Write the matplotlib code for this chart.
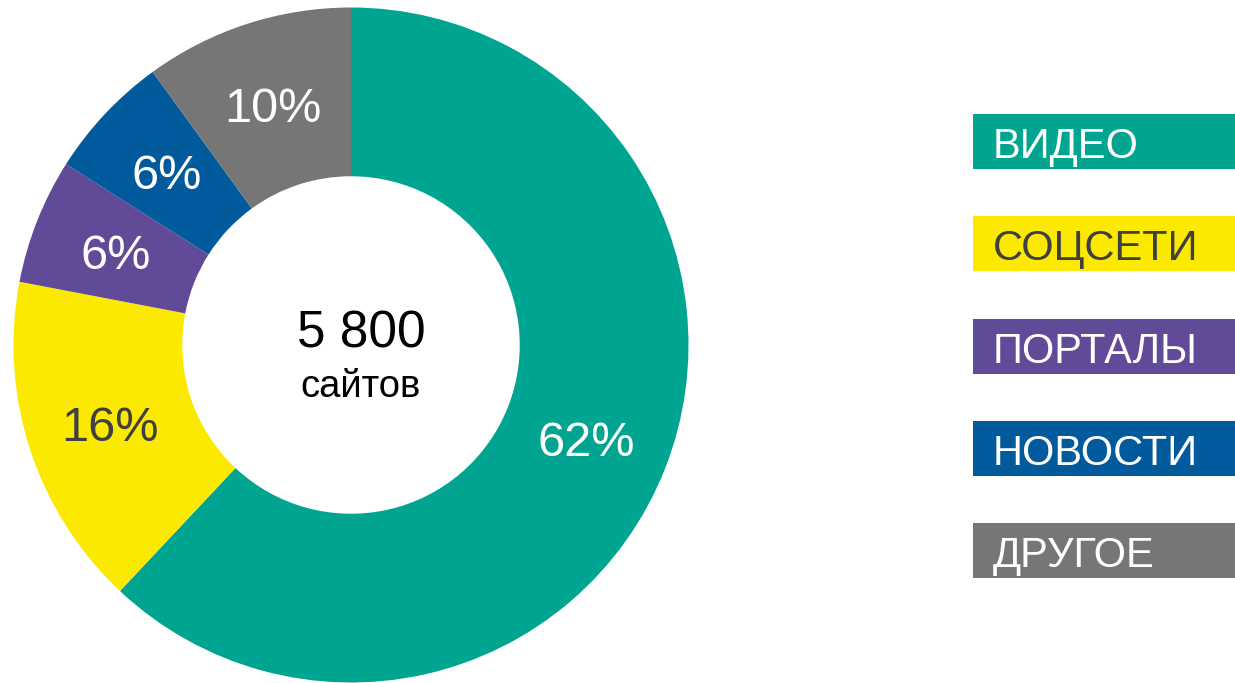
import matplotlib
matplotlib.use("Agg")
import matplotlib.pyplot as plt
from matplotlib.patches import Rectangle

plt.rcParams['font.family'] = ['Liberation Sans', 'DejaVu Sans']

categories = ['ВИДЕО', 'СОЦСЕТИ', 'ПОРТАЛЫ', 'НОВОСТИ', 'ДРУГОЕ']
shares = [62, 16, 6, 6, 10]
colors = ['#00A591', '#FCE900', '#614A98', '#005A9B', '#767676']
text_colors = ['white', '#404040', 'white', 'white', 'white']
total_label = '5 800'
total_caption = 'сайтов'

W, H = 1235, 683
fig = plt.figure(figsize=(W / 100, H / 100), dpi=100)
fig.patch.set_facecolor('white')

# Donut chart
cx, cy, R = 351, 345, 337.5
ax = fig.add_axes([(cx - R) / W, (H - cy - R) / H, 2 * R / W, 2 * R / H])
wedges, _, autotexts = ax.pie(
    shares, colors=colors, startangle=90, counterclock=False, radius=1,
    wedgeprops=dict(width=0.5, linewidth=0),
    autopct=lambda p: f'{p:.0f}%', pctdistance=0.75,
    textprops=dict(fontsize=35),
)
for t, c in zip(autotexts, text_colors):
    t.set_color(c)
    x, y = t.get_position()
    t.set_position((x, y - 0.015))
ax.set_xlim(-1, 1)
ax.set_ylim(-1, 1)
ax.set_aspect('equal')
ax.axis('off')

ax.text(0.03, -0.006, total_label, ha='center', va='baseline',
        fontsize=37, color='black')
ax.text(0.027, -0.154, total_caption, ha='center', va='baseline',
        fontsize=27.5, color='black')

# Legend boxes
lax = fig.add_axes([0, 0, 1, 1])
lax.set_xlim(0, W)
lax.set_ylim(H, 0)
lax.axis('off')
lax.patch.set_alpha(0)
box_x, box_h, top0, step = 973, 55, 114, 102.3
for i, (name, col, tcol) in enumerate(zip(categories, colors, text_colors)):
    top = top0 + i * step
    lax.add_patch(Rectangle((box_x, top), W - box_x + 5, box_h,
                            facecolor=col, edgecolor='none'))
    lax.text(box_x + 20, top + 44, name, ha='left', va='baseline',
             fontsize=30, color=tcol)

fig.savefig('out.png', dpi=100, facecolor='white')
